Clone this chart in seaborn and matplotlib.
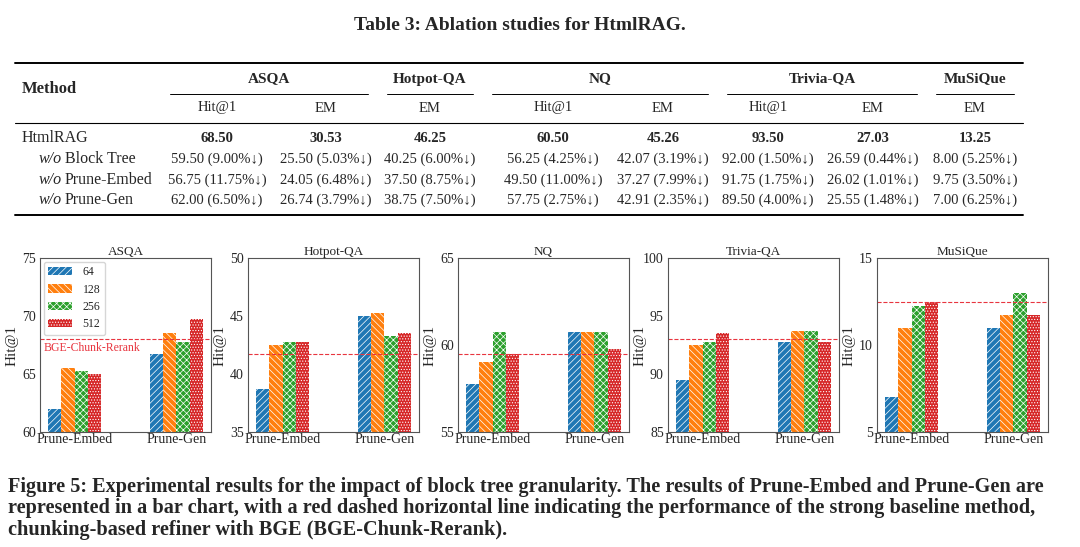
import numpy as np
import pandas as pd
import seaborn as sns
import matplotlib.pyplot as plt
from matplotlib.lines import Line2D
from matplotlib.patches import Patch
from matplotlib.transforms import blended_transform_factory

# Table 3 data
table_title = "Table 3: Ablation studies for HtmlRAG."
datasets = ["ASQA", "Hotpot-QA", "NQ", "Trivia-QA", "MuSiQue"]
metrics = ["Hit@1", "EM", "EM", "Hit@1", "EM", "Hit@1", "EM", "EM"]
row_names = ["HtmlRAG", "Block Tree", "Prune-Embed", "Prune-Gen"]
htmlrag_row = ["68.50", "30.53", "46.25", "60.50", "45.26", "93.50", "27.03", "13.25"]
block_tree_row = ["59.50 (9.00%↓)", "25.50 (5.03%↓)", "40.25 (6.00%↓)", "56.25 (4.25%↓)",
                  "42.07 (3.19%↓)", "92.00 (1.50%↓)", "26.59 (0.44%↓)", "8.00 (5.25%↓)"]
prune_embed_row = ["56.75 (11.75%↓)", "24.05 (6.48%↓)", "37.50 (8.75%↓)", "49.50 (11.00%↓)",
                   "37.27 (7.99%↓)", "91.75 (1.75%↓)", "26.02 (1.01%↓)", "9.75 (3.50%↓)"]
prune_gen_row = ["62.00 (6.50%↓)", "26.74 (3.79%↓)", "38.75 (7.50%↓)", "57.75 (2.75%↓)",
                 "42.91 (2.35%↓)", "89.50 (4.00%↓)", "25.55 (1.48%↓)", "7.00 (6.25%↓)"]

# Figure 5 data (Hit@1)
methods = ["Prune-Embed", "Prune-Gen"]
sizes = ["64", "128", "256", "512"]
asqa_embed = [62.0, 65.5, 65.25, 65.0]
asqa_gen = [66.75, 68.5, 67.75, 69.75]
hotpot_embed = [38.75, 42.5, 42.75, 42.75]
hotpot_gen = [45.0, 45.25, 43.25, 43.5]
nq_embed = [57.75, 59.0, 60.75, 59.5]
nq_gen = [60.75, 60.75, 60.75, 59.75]
trivia_embed = [89.5, 92.5, 92.75, 93.5]
trivia_gen = [92.75, 93.75, 93.75, 92.75]
musique_embed = [7.0, 11.0, 12.25, 12.5]
musique_gen = [11.0, 11.75, 13.0, 11.75]
baselines = [68.0, 41.75, 59.5, 93.0, 12.5]
baseline_name = "BGE-Chunk-Rerank"

caption = ["Figure 5: Experimental results for the impact of block tree granularity. The results of Prune-Embed and Prune-Gen are",
           "represented in a bar chart, with a red dashed horizontal line indicating the performance of the strong baseline method,",
           "chunking-based refiner with BGE (BGE-Chunk-Rerank)."]

sns.set_theme(style="white")
plt.rcParams['font.family'] = ['Liberation Serif', 'DejaVu Serif']
plt.rcParams['hatch.linewidth'] = 0.5

W, H = 1080, 547
fig = plt.figure(figsize=(W / 100, H / 100), dpi=100)


def fx(px):
    return px / W


def fy(py):
    return 1 - py / H


def hline(x0, x1, y, lw):
    fig.add_artist(Line2D([fx(x0), fx(x1)], [fy(y), fy(y)], transform=fig.transFigure,
                          color="black", lw=lw))


# ---- table ----
fig.text(fx(520), fy(25), table_title, ha="center", va="center", fontsize=14, fontweight="bold")
hline(15, 1023, 63, 1.4)
hline(15, 1023, 123, 0.8)
hline(15, 1023, 215, 1.4)
fig.text(fx(22), fy(89), "Method", ha="left", va="center", fontsize=12, fontweight="bold")

head_x = [269, 430, 600, 822, 975]
spans = [(170, 368), (387, 473), (492, 708), (727, 917), (936, 1014)]
for name, hx, (a, b) in zip(datasets, head_x, spans):
    fig.text(fx(hx), fy(79), name, ha="center", va="center", fontsize=11, fontweight="bold")
    hline(a, b, 94, 0.7)

col_x = [217, 326, 430, 553, 663, 768, 873, 975]
for m, cx in zip(metrics, col_x):
    fig.text(fx(cx), fy(108), m, ha="center", va="center", fontsize=10.5)

rows = [htmlrag_row, block_tree_row, prune_embed_row, prune_gen_row]
row_y = [138, 159, 180, 200]
for i, (name, vals, ry) in enumerate(zip(row_names, rows, row_y)):
    if i == 0:
        fig.text(fx(22), fy(ry), name, ha="left", va="center", fontsize=11.5)
    else:
        fig.text(fx(39), fy(ry), "w/o", ha="left", va="center", fontsize=11.5, style="italic")
        fig.text(fx(65), fy(ry), name, ha="left", va="center", fontsize=11.5)
    for v, cx in zip(vals, col_x):
        fig.text(fx(cx), fy(ry), v, ha="center", va="center", fontsize=10.5,
                 fontweight="bold" if i == 0 else "normal")

# ---- bar charts ----
embed_all = [asqa_embed, hotpot_embed, nq_embed, trivia_embed, musique_embed]
gen_all = [asqa_gen, hotpot_gen, nq_gen, trivia_gen, musique_gen]
ylims = [(60, 75), (35, 50), (55, 65), (85, 100), (5, 15)]
lefts = [40, 248, 458, 668, 877]
colors = sns.color_palette("tab10")[:4]
hatches = ["/////", "\\\\\\\\\\", "xxxxx", "......"]
base_color = "#e8353f"

for i, name in enumerate(datasets):
    ax = fig.add_axes([fx(lefts[i]), fy(432), 171 / W, (432 - 258) / H])
    df = pd.DataFrame({"method": np.repeat(methods, len(sizes)),
                       "size": sizes * 2,
                       "hit": embed_all[i] + gen_all[i]})
    sns.barplot(data=df, x="method", y="hit", hue="size", palette=colors, width=0.52,
                saturation=1, legend=False, ax=ax)
    for cont, h in zip(ax.containers, hatches):
        for bar in cont:
            bar.set_hatch(h)
            bar.set_edgecolor("white")
            bar.set_linewidth(0)
    ax.axhline(baselines[i], color=base_color, ls="--", lw=0.8)
    ax.set_xlim(-0.34, 1.34)
    ax.set_ylim(*ylims[i])
    ax.set_yticks(np.arange(ylims[i][0], ylims[i][1] + 1, 5))
    ax.set_title(name, fontsize=9.5, pad=2)
    ax.set_xlabel("")
    ax.set_ylabel("Hit@1", fontsize=11)
    ax.yaxis.set_label_coords(-0.125, 0.5)
    ax.tick_params(axis="x", length=0, pad=1, labelsize=10)
    ax.tick_params(axis="y", length=2, pad=1, labelsize=10)
    for s in ax.spines.values():
        s.set_color("#555555")
        s.set_linewidth(0.8)
    if i == 0:
        tr = blended_transform_factory(ax.transAxes, ax.transData)
        ax.text(0.02, baselines[i] - 0.25, baseline_name, transform=tr, color=base_color,
                fontsize=8.5, ha="left", va="top")
        handles = [Patch(facecolor=c, hatch=h, edgecolor="white", lw=0, label=s)
                   for c, h, s in zip(colors, hatches, sizes)]
        ax.legend(handles=handles, loc="upper left", fontsize=8.5, handlelength=2.0,
                  handleheight=0.7, labelspacing=0.45, handletextpad=0.9,
                  borderaxespad=0.3, frameon=True, edgecolor="#cccccc")

# ---- caption ----
for line, cy in zip(caption, [487, 508, 530]):
    fig.text(fx(8), fy(cy), line, ha="left", va="center", fontsize=14.6, fontweight="bold")

fig.savefig("out.png", dpi=100)
